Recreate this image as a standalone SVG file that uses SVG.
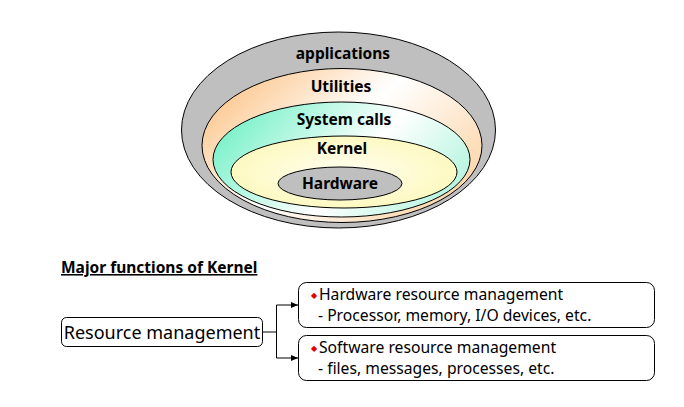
<svg xmlns="http://www.w3.org/2000/svg" width="684" height="407" viewBox="0 0 684 407">
<defs>
<style>
.lbl{font-family:"Noto Sans","Open Sans","DejaVu Sans",sans-serif;font-weight:bold;font-size:15.5px;fill:#000;text-anchor:middle}
.t{font-family:"Noto Sans","Open Sans","DejaVu Sans",sans-serif;fill:#000}
.ring{stroke:#000;stroke-width:1}
.box{fill:#fff;stroke:#000;stroke-width:1}
.con{fill:none;stroke:#000;stroke-width:1}
.bul{fill:#e00000;font-size:8px;font-family:"DejaVu Sans",sans-serif}
</style>
<linearGradient id="gUtil" x1="0" y1="0" x2="1" y2="0.6">
<stop offset="0" stop-color="#fbb972"/>
<stop offset="0.55" stop-color="#fff"/>
<stop offset="1" stop-color="#fdd9b0"/>
</linearGradient>
<linearGradient id="gSys" x1="0" y1="0.2" x2="1" y2="0.6">
<stop offset="0" stop-color="#6ff0c4"/>
<stop offset="0.6" stop-color="#fff"/>
<stop offset="1" stop-color="#b8f5e0"/>
</linearGradient>
<radialGradient id="gKer" cx="0.5" cy="0.5" r="0.6">
<stop offset="0" stop-color="#fffef0"/>
<stop offset="1" stop-color="#fdf8b8"/>
</radialGradient>
<marker id="arr" markerWidth="8" markerHeight="8" refX="7" refY="4" orient="auto" markerUnits="userSpaceOnUse">
<path d="M0,1 L7,4 L0,7 Z" fill="#000"/>
</marker>
</defs>
<rect width="684" height="407" fill="#fff"/>
<g id="applications">
<ellipse class="ring" cx="338.5" cy="130" rx="157" ry="98" fill="#bfbfbf"/>
<text class="lbl" x="343" y="59">applications</text>
</g>
<g id="utilities">
<ellipse class="ring" cx="342" cy="145.5" rx="140" ry="77" fill="url(#gUtil)"/>
<text class="lbl" x="341" y="92">Utilities</text>
</g>
<g id="system-calls">
<ellipse class="ring" cx="341.5" cy="159.5" rx="128.5" ry="57.5" fill="url(#gSys)"/>
<text class="lbl" x="344" y="125">System calls</text>
</g>
<g id="kernel">
<ellipse class="ring" cx="344" cy="172" rx="113" ry="36" fill="url(#gKer)"/>
<text class="lbl" x="342" y="154">Kernel</text>
</g>
<g id="hardware">
<ellipse class="ring" cx="340" cy="183.5" rx="62" ry="16.5" fill="#bfbfbf"/>
<text class="lbl" x="340" y="188.5">Hardware</text>
</g>
<g id="title">
<text class="t" x="61" y="273" font-size="15.5" font-weight="bold" text-decoration="underline">Major functions of Kernel</text>
</g>
<g id="resource-management">
<rect class="box" x="61.5" y="317.5" width="201" height="29" rx="5"/>
<text class="t" x="162" y="338.5" font-size="18" text-anchor="middle">Resource management</text>
</g>
<g id="hardware-resource">
<rect class="box" x="298.5" y="282.5" width="356" height="45" rx="8"/>
<text class="bul" x="311" y="298">◆</text>
<text class="t" x="319" y="300" font-size="15.7">Hardware resource management</text>
<text class="t" x="318" y="320.5" font-size="15.7">- Processor, memory, I/O devices, etc.</text>
</g>
<g id="software-resource">
<rect class="box" x="298.5" y="335.5" width="356" height="45" rx="8"/>
<text class="bul" x="311" y="351">◆</text>
<text class="t" x="319" y="353" font-size="15.7">Software resource management</text>
<text class="t" x="318" y="373.5" font-size="15.7">- files, messages, processes, etc.</text>
</g>
<g id="connectors">
<path class="con" d="M262.5,332 H276.5"/>
<path class="con" d="M276.5,305 V358"/>
<path class="con" d="M276.5,305 H298" marker-end="url(#arr)"/>
<path class="con" d="M276.5,358 H298" marker-end="url(#arr)"/>
</g>
</svg>
